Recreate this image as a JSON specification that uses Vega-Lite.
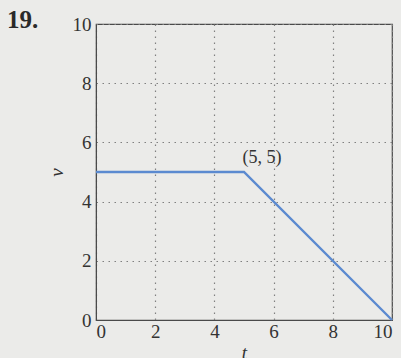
{
  "$schema": "https://vega.github.io/schema/vega-lite/v6.json",
  "autosize": "none",
  "width": 296,
  "height": 296,
  "padding": {"left": 96, "top": 24, "right": 9, "bottom": 38},
  "background": "#ebebe9",
  "title": {
    "text": "19.",
    "anchor": "start",
    "frame": "group",
    "font": "Liberation Serif",
    "fontSize": 25,
    "fontWeight": "bold",
    "color": "#2a2a2a",
    "dx": -89,
    "dy": 38,
    "offset": 0,
    "baseline": "alphabetic"
  },
  "config": {
    "view": {"stroke": "#4a4a4a", "strokeWidth": 1.2, "fill": "#ebebe9"},
    "axis": {
      "labelFont": "Liberation Serif",
      "labelFontSize": 19,
      "labelColor": "#333333",
      "titleFont": "Liberation Serif",
      "titleFontSize": 19,
      "titleFontStyle": "italic",
      "titleFontWeight": "normal",
      "titleColor": "#333333",
      "domainColor": "#4a4a4a",
      "grid": true,
      "gridColor": "#808080",
      "gridDash": [1.5, 4.5],
      "gridWidth": 1.2,
      "ticks": false,
      "labelPadding": 5
    }
  },
  "data": {
    "values": [
      {"t": 0, "v": 5},
      {"t": 5, "v": 5},
      {"t": 10, "v": 0}
    ]
  },
  "layer": [
    {
      "mark": {"type": "line", "color": "#5b8ad0", "strokeWidth": 2.4},
      "encoding": {
        "x": {"field": "t", "type": "quantitative", "scale": {"domain": [0, 10], "nice": false},
              "axis": {"values": [0, 2, 4, 6, 8, 10], "title": "t", "titlePadding": 2, "labelPadding": 2}},
        "y": {"field": "v", "type": "quantitative", "scale": {"domain": [0, 10], "nice": false},
              "axis": {"values": [0, 2, 4, 6, 8, 10], "title": "v", "titlePadding": 6}}
      }
    },
    {
      "data": {"values": [{"t": 5, "v": 5, "label": "(5, 5)"}]},
      "mark": {"type": "text", "font": "Liberation Serif", "fontSize": 18, "color": "#333333", "dx": 18, "dy": -14},
      "encoding": {
        "x": {"field": "t", "type": "quantitative"},
        "y": {"field": "v", "type": "quantitative"},
        "text": {"field": "label"}
      }
    }
  ]
}
